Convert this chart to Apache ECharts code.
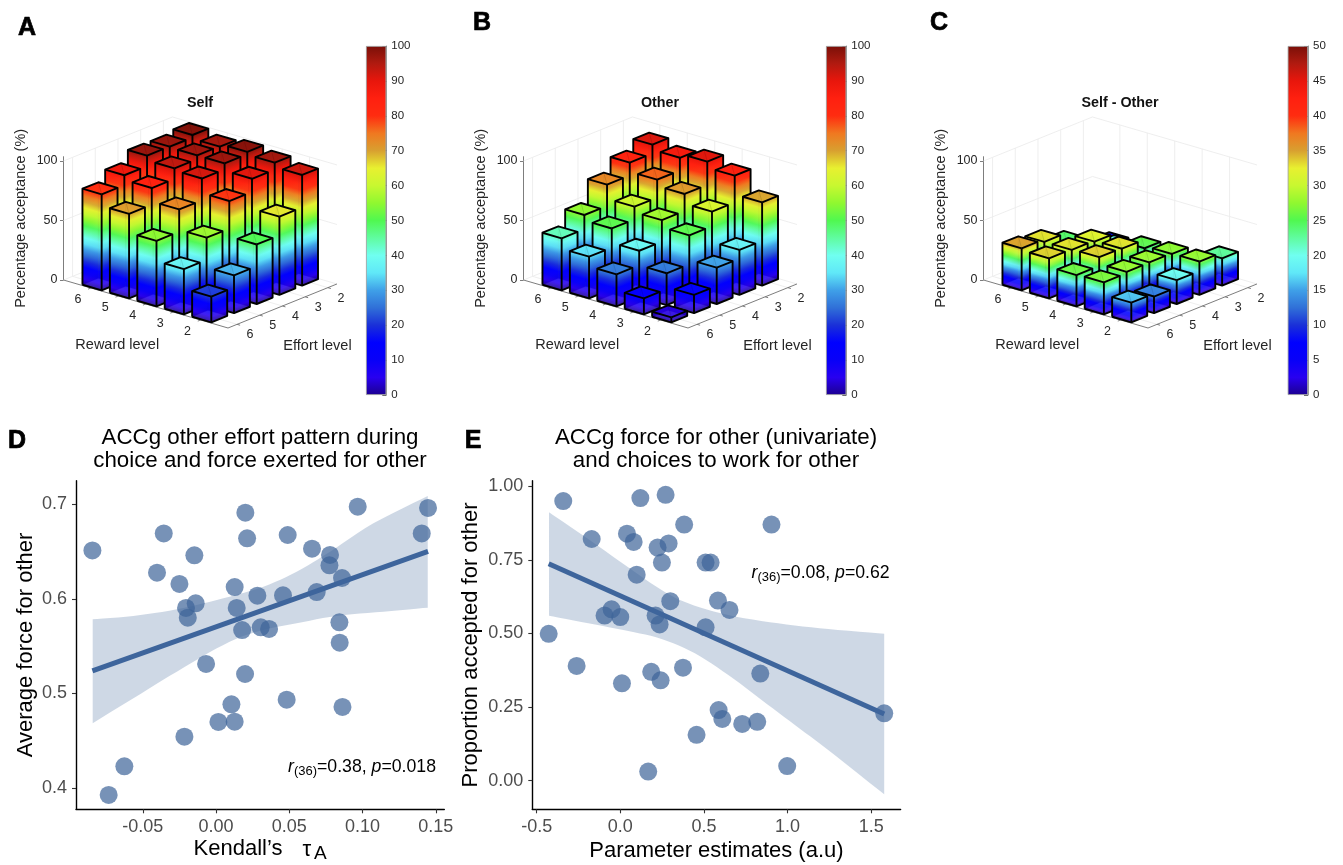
<!DOCTYPE html>
<html>
<head>
<meta charset="utf-8">
<style>html,body{margin:0;padding:0;background:#fff}#chart{width:1343px;height:865px}</style>
<script src="https://cdn.jsdelivr.net/npm/echarts@6/dist/echarts.min.js"></script>
</head>
<body>
<div id="chart"></div>
<script>
// ---------- Data: 3D bars (percentage acceptance), each row is one effort level, reward 2..6 ----------
const rewardLevels = [2, 3, 4, 5, 6];
const effortLevels = [2, 3, 4, 5, 6];
const selfE2 = [93, 96.6, 99, 96.6, 99.7];
const selfE3 = [65.7, 90.8, 97, 97, 97.6];
const selfE4 = [50, 79.8, 92, 93.8, 97.8];
const selfE5 = [31.8, 56.7, 73.7, 85, 89];
const selfE6 = [21.6, 38, 55, 71, 80.7];
const otherE2 = [70, 85.7, 90.8, 87.3, 91.6];
const otherE3 = [37.7, 63.2, 71.3, 76.6, 84.2];
const otherE4 = [30.5, 51, 57, 61.6, 73.4];
const otherE5 = [15.3, 26.8, 39, 51, 55.6];
const otherE6 = [4.2, 13.4, 26.9, 35, 43.7];
const diffE2 = [23, 11, 8, 9, 8];
const diffE3 = [28, 27.6, 25.7, 20, 13.4];
const diffE4 = [20, 28.3, 33, 32.2, 24.4];
const diffE5 = [14, 28, 33.6, 33, 33];
const diffE6 = [16.5, 26.9, 26.3, 33.6, 35.3];
const zTicks = [0, 50, 100];
const barTicksFull = [0, 10, 20, 30, 40, 50, 60, 70, 80, 90, 100];
const barTicksHalf = [0, 5, 10, 15, 20, 25, 30, 35, 40, 45, 50];

// ---------- Data: panel D ----------
const dX = [-.0844,-.0357,-.0403,-.025,-.0148,-.0205,-.0193,-.0139,-.0068,.0127,.0141,.0178,.02,.0212,.0198,.0105,.0127,.0016,-.0216,-.0626,-.0733,.0282,.0305,.0362,.0457,.0489,.0482,.0655,.0687,.0778,.0774,.086,.0842,.0844,.0863,.0967,.1404,.1447];
const dY = [.651,.669,.6275,.6156,.6458,.5903,.58,.5952,.5312,.6124,.5903,.567,.6909,.6638,.5206,.4886,.4703,.47,.4545,.4232,.393,.6033,.5699,.5681,.6036,.6673,.4935,.6529,.6071,.6462,.6353,.6219,.5751,.5537,.4858,.6972,.669,.6958];
const dFitX = [-.0844, .1447];
const dFitY = [.5238, .65];
const dHighX = [-.0842,-.0564,-.0268,.005,.0323,.055,.0778,.1074,.1445];
const dHighY = [.5783,.5819,.5889,.6005,.6128,.6286,.6497,.6796,.7084];
const dLowX = [-.0842,-.0564,-.0268,.005,.0278,.055,.0824,.1142,.1445];
const dLowY = [.4687,.495,.5231,.5513,.5653,.5741,.5819,.5864,.5906];
const dTicksX = [-.05, 0, .05, .1, .15];
const dTicksY = [.4, .5, .6, .7];

// ---------- Data: panel E ----------
const eX = [-.341,.12,.271,.382,.904,-.171,.04,.08,.223,.289,.249,.51,.54,.098,.299,.584,.653,-.052,-.094,0,.211,.235,.51,-.428,-.261,.375,.185,.241,.01,.837,.588,.61,.729,.819,.456,.167,.998,1.578];
const eY = [.95,.96,.971,.87,.87,.821,.839,.811,.792,.806,.741,.741,.741,.7,.61,.612,.58,.582,.561,.556,.561,.531,.521,.499,.39,.384,.37,.341,.331,.364,.24,.21,.193,.2,.156,.031,.05,.229];
const eFitX = [-.428, 1.578];
const eFitY = [.737, .2265];
const eHighX = [-.426,-.211,.028,.247,.406,.646,.944,1.243,1.578];
const eHighY = [.9116,.8288,.7327,.6478,.6026,.5628,.5346,.5153,.4993];
const eLowX = [-.426,-.191,.048,.247,.446,.646,.845,1.044,1.243,1.578];
const eLowY = [.5605,.5346,.5085,.4813,.4327,.359,.2741,.1892,.1043,-.0462];
const eTicksX = [-.5, 0, .5, 1, 1.5];
const eTicksY = [0, .25, .5, .75, 1];

// ---------- Colour map ----------
const cmapStops = [
  [0,'#1c0090'],[.05,'#2800f0'],[.1,'#0800f8'],[.15,'#0000ff'],[.2,'#1a30d8'],[.25,'#3070d8'],
  [.3,'#3fa0e8'],[.35,'#60e8f8'],[.4,'#70fff0'],[.45,'#60fca0'],[.5,'#50f850'],[.55,'#90f830'],
  [.6,'#c8f830'],[.65,'#e8f030'],[.7,'#d8a030'],[.75,'#f07820'],[.8,'#ff2c10'],[.85,'#ff2010'],
  [.9,'#e8160c'],[.95,'#b01a10'],[1,'#7a1008']
];
const gradStops = cmapStops.map(s => ({offset: s[0], color: s[1]}));
function hex(c){return [1,3,5].map(i => parseInt(c.substr(i,2),16));}
function sampleColor(t){
  t = Math.max(0, Math.min(1, t));
  for (let i = 1; i < cmapStops.length; i++) {
    if (t <= cmapStops[i][0]) {
      const a = cmapStops[i-1], b = cmapStops[i], f = (t-a[0])/(b[0]-a[0]);
      const A = hex(a[1]), B = hex(b[1]);
      return 'rgb(' + A.map((v,j) => Math.round(v+(B[j]-v)*f)).join(',') + ')';
    }
  }
  return cmapStops[cmapStops.length-1][1];
}

// ---------- Oblique view of the 3D axes ----------
const rMin = 1, rMax = 7, eMin = 1.6, eMax = 6.4, halfBar = .35;
const viewEx = 22.7, viewEy = -9.17, viewRy = 8;
function project(api, r, e, z){
  const p = api.coord([r, z]);
  return [p[0] + (eMax-e)*viewEx, p[1] + (rMax-r)*viewRy + (eMax-e)*viewEy];
}

const FONT = '"Liberation Sans", Arial, Helvetica, sans-serif';
const GRID_COL = '#ececec', AX3D = '#6e6e6e', TXT3D = '#262626';
function seg(a, b, stroke, w){
  return {type:'line', silent:true, shape:{x1:a[0],y1:a[1],x2:b[0],y2:b[1]}, style:{stroke, lineWidth:w}};
}
function label(text, x, y, size){
  return {type:'text', silent:true, style:{text, x, y, fill:TXT3D, fontSize:size, fontFamily:FONT, textAlign:'center', textVerticalAlign:'middle'}};
}

function renderFrame(params, api){
  const P = (r,e,z) => project(api,r,e,z), ch = [];
  zTicks.filter(z => z > 0).forEach(z => {
    ch.push(seg(P(rMax,eMax,z), P(rMax,eMin,z), GRID_COL, .9));
    ch.push(seg(P(rMax,eMin,z), P(rMin,eMin,z), GRID_COL, .9));
  });
  rewardLevels.forEach(r => {
    ch.push(seg(P(r,eMin,0), P(r,eMin,100), GRID_COL, .9));
    ch.push(seg(P(r,eMin,0), P(r,eMax,0), GRID_COL, .9));
  });
  effortLevels.forEach(e => {
    ch.push(seg(P(rMax,e,0), P(rMax,e,100), GRID_COL, .9));
    ch.push(seg(P(rMax,e,0), P(rMin,e,0), GRID_COL, .9));
  });
  ch.push(seg(P(rMax,eMin,0), P(rMax,eMax,0), GRID_COL, .9));
  ch.push(seg(P(rMax,eMin,0), P(rMin,eMin,0), GRID_COL, .9));
  ch.push(seg(P(rMax,eMax,0), P(rMin,eMax,0), AX3D, .9));
  ch.push(seg(P(rMin,eMax,0), P(rMin,eMin,0), AX3D, .9));
  rewardLevels.forEach(r => {
    const p = P(r,eMax,0);
    ch.push(seg(p, [p[0]-2.8,p[1]+1.1], AX3D, .9));
    ch.push(label(String(r), p[0]-13, p[1]+11.5, 12.5));
  });
  effortLevels.forEach(e => {
    const p = P(rMin,e,0);
    ch.push(seg(p, [p[0]+3,p[1]+.9], AX3D, .9));
    ch.push(label(String(e), p[0]+13, p[1]+10.5, 12.5));
  });
  const a = P(4,eMax,0), b = P(rMin,4,0);
  ch.push(label('Reward level', a[0]-28.5, a[1]+41, 14.5));
  ch.push(label('Effort level', b[0]+35, b[1]+40, 14.5));
  return {type:'group', children:ch};
}

function faceGradient(A, B, H){
  const dx = B[0]-A[0], dy = B[1]-A[1], L = Math.hypot(dx,dy);
  let nx = -dy/L, ny = dx/L;
  if (ny > 0) { nx = -nx; ny = -ny; }
  const lam = H * (-ny);
  return new echarts.graphic.LinearGradient(A[0], A[1], A[0]+nx*lam, A[1]+ny*lam, gradStops, true);
}
function makeBarRenderer(colorMax){
  return function(params, api){
    const r = api.value(0), e = api.value(1), z = api.value(2);
    const P = (a,b,c) => project(api,a,b,c);
    const r0=r-halfBar, r1=r+halfBar, e0=e-halfBar, e1=e+halfBar;
    const H = api.coord([r,0])[1] - api.coord([r,colorMax])[1];
    const fb=P(r0,e1,0), lb=P(r1,e1,0), rb=P(r0,e0,0), bb=P(r1,e0,0);
    const ft=P(r0,e1,z), lt=P(r1,e1,z), rt=P(r0,e0,z), bt=P(r1,e0,z);
    const poly = (pts, fill, op) => ({type:'polygon', silent:true, shape:{points:pts}, style:{fill, opacity:op}});
    const ch = [
      poly([lb,bb,bt,lt], faceGradient(lb,bb,H), 1),
      poly([rb,bb,bt,rt], faceGradient(rb,bb,H), 1),
      seg(bb,bt,'rgba(0,0,0,.35)',1),
      seg(lb,bb,'rgba(0,0,0,.3)',.8),
      seg(rb,bb,'rgba(0,0,0,.3)',.8),
      poly([fb,lb,lt,ft], faceGradient(fb,lb,H), .88),
      poly([fb,rb,rt,ft], faceGradient(fb,rb,H), .88),
      poly([ft,lt,bt,rt], sampleColor(z/colorMax), .9),
      seg(ft,bt,'rgba(0,0,0,.12)',1)
    ];
    const edge = {type:'polyline', silent:true, shape:{points:[lb,fb,rb,rt,bt,lt,lb]}, style:{stroke:'#000',lineWidth:1.9,fill:null,lineJoin:'round'}};
    ch.push(edge);
    ch.push(seg(fb,ft,'#000',1.9), seg(ft,lt,'#000',1.9), seg(ft,rt,'#000',1.9));
    return {type:'group', children:ch};
  };
}
function barTable(rows){
  const out = [];
  effortLevels.forEach((e,i) => {
    for (let k = rewardLevels.length-1; k >= 0; k--) out.push([rewardLevels[k], e, rows[i][k]]);
  });
  return out;
}
// Rounds the outline of a polyline for drawing only (the read points stay on the curve).
function roundedOutline(pts){
  const out = [];
  for (let i = 0; i < pts.length-1; i++) {
    const p0 = pts[Math.max(i-1,0)], p1 = pts[i], p2 = pts[i+1], p3 = pts[Math.min(i+2,pts.length-1)];
    for (let k = 0; k < 6; k++) {
      const t = k/6, t2 = t*t, t3 = t2*t;
      out.push([0,1].map(d => .5*(2*p1[d] + (p2[d]-p0[d])*t + (2*p0[d]-5*p1[d]+4*p2[d]-p3[d])*t2 + (3*p1[d]-p0[d]-3*p2[d]+p3[d])*t3)));
    }
  }
  out.push(pts[pts.length-1]);
  return out;
}
function renderBand(hx, hy, lx, ly, color){
  return function(params, api){
    const top = roundedOutline(hx.map((x,i) => api.coord([x,hy[i]])));
    const bot = roundedOutline(lx.map((x,i) => api.coord([x,ly[i]]))).reverse();
    return {type:'polygon', silent:true, shape:{points:top.concat(bot)}, style:{fill:color, opacity:.25}};
  };
}

// ---------- Layout ----------
const grid = [], xAxis = [], yAxis = [], series = [], title = [];
function addScene(left, rows, colorMax, barLeft, ticks, name){
  const gi = grid.length;
  grid.push({left:left+63.5, width:164.5, top:156.7, height:123.3, outerBoundsMode:'none', containLabel:false});
  xAxis.push({gridIndex:gi, type:'value', min:rMin, max:rMax, inverse:true, show:false});
  yAxis.push({gridIndex:gi, type:'value', min:0, max:103.6, position:'left', splitLine:{show:false},
    axisLine:{show:true, lineStyle:{color:AX3D, width:.9}},
    axisTick:{show:true, length:3.5, lineStyle:{color:AX3D, width:.9}, customValues:zTicks},
    axisLabel:{color:TXT3D, fontSize:12.5, fontFamily:FONT, margin:6, customValues:zTicks},
    name:'Percentage acceptance (%)', nameLocation:'middle', nameRotate:90, nameGap:35,
    nameTextStyle:{color:TXT3D, fontSize:14.5, fontFamily:FONT}});
  series.push({type:'custom', xAxisIndex:gi, yAxisIndex:gi, coordinateSystem:'cartesian2d', clip:false, silent:true, z:1,
    renderItem:renderFrame, data:[[rMin,0]], encode:{x:0,y:1}});
  series.push({type:'custom', name, xAxisIndex:gi, yAxisIndex:gi, coordinateSystem:'cartesian2d', clip:false, silent:true, z:2,
    renderItem:makeBarRenderer(colorMax), data:barTable(rows), encode:{x:0,y:2}});
  // colour bar
  const ci = grid.length;
  grid.push({left:barLeft, width:20.3, top:46, height:349, outerBoundsMode:'none', containLabel:false});
  xAxis.push({gridIndex:ci, type:'category', data:['range'], show:false});
  yAxis.push({gridIndex:ci, type:'value', min:0, max:colorMax, position:'right', splitLine:{show:false},
    axisLine:{show:true, lineStyle:{color:'#9a9a9a', width:1}},
    axisTick:{show:true, inside:true, length:4, lineStyle:{color:'#444', width:.8}, customValues:ticks},
    axisLabel:{color:TXT3D, fontSize:11.5, fontFamily:FONT, margin:5, customValues:ticks}});
  series.push({type:'bar', xAxisIndex:ci, yAxisIndex:ci, barWidth:'100%', silent:true, data:[colorMax],
    itemStyle:{color:new echarts.graphic.LinearGradient(0,1,0,0,gradStops), borderColor:'#9a9a9a', borderWidth:.8}});
  title.push({text:name, left:left+200, top:103, padding:0, textAlign:'center', textVerticalAlign:'middle',
    textStyle:{fontSize:14.3, fontWeight:'bold', color:'#111', fontFamily:FONT}});
}
addScene(0,   [selfE2,selfE3,selfE4,selfE5,selfE6], 100, 366, barTicksFull, 'Self');
addScene(460, [otherE2,otherE3,otherE4,otherE5,otherE6], 100, 826, barTicksFull, 'Other');
addScene(920, [diffE2,diffE3,diffE4,diffE5,diffE6], 50, 1287.7, barTicksHalf, 'Self - Other');

const BLUE = '#3d6499';
function addScatter(cfg){
  const gi = grid.length;
  grid.push({left:cfg.left, width:368.3, top:480.7, height:328.6, outerBoundsMode:'none', containLabel:false});
  const axisBase = {splitLine:{show:false},
    axisLine:{show:true, onZero:false, lineStyle:{color:'#000', width:1.4}},
    axisTick:{show:true, length:4, lineStyle:{color:'#333', width:1.1}},
    axisLabel:{color:'#4d4d4d', fontSize:18, fontFamily:FONT}};
  xAxis.push(Object.assign({}, axisBase, {gridIndex:gi, type:'value', min:cfg.xr[0], max:cfg.xr[1],
    axisTick:Object.assign({}, axisBase.axisTick, {customValues:cfg.tx}),
    axisLabel:Object.assign({}, axisBase.axisLabel, {margin:8.5, customValues:cfg.tx, formatter:v => v.toFixed(cfg.dx)}),
    name:cfg.xName, nameLocation:'middle', nameGap:cfg.xGap,
    nameTextStyle:{color:'#000', fontSize:22, fontFamily:FONT, rich:cfg.xRich}}));
  yAxis.push(Object.assign({}, axisBase, {gridIndex:gi, type:'value', min:cfg.yr[0], max:cfg.yr[1],
    axisTick:Object.assign({}, axisBase.axisTick, {customValues:cfg.ty}),
    axisLabel:Object.assign({}, axisBase.axisLabel, {margin:9, customValues:cfg.ty, formatter:v => v.toFixed(cfg.dy)}),
    name:cfg.yName, nameLocation:'middle', nameRotate:90, nameGap:cfg.yGap,
    nameTextStyle:{color:'#000', fontSize:22, fontFamily:FONT}}));
  series.push({type:'custom', xAxisIndex:gi, yAxisIndex:gi, coordinateSystem:'cartesian2d', clip:false, silent:true, z:1,
    renderItem:renderBand(cfg.hx,cfg.hy,cfg.lx,cfg.ly,BLUE), data:[[cfg.hx[0],cfg.hy[0]]], encode:{x:0,y:1}});
  series.push({type:'scatter', xAxisIndex:gi, yAxisIndex:gi, symbolSize:18, silent:true, z:2, clip:false,
    itemStyle:{color:BLUE, opacity:.7}, data:cfg.px.map((x,i) => [x,cfg.py[i]])});
  series.push({type:'line', xAxisIndex:gi, yAxisIndex:gi, showSymbol:false, silent:true, z:3, clip:false,
    lineStyle:{color:'#3e659c', width:5}, data:cfg.fx.map((x,i) => [x,cfg.fy[i]])});
}
addScatter({left:76, xr:[-.0956,.1558], yr:[.3778,.7246], tx:dTicksX, ty:dTicksY, dx:2, dy:1,
  px:dX, py:dY, fx:dFitX, fy:dFitY, hx:dHighX, hy:dHighY, lx:dLowX, ly:dLowY,
  xName:'{k|Kendall’s}{g|}{t|τ}{a|A}', xGap:25,
  xRich:{k:{fontSize:22,fontFamily:FONT,color:'#000'}, g:{width:20}, t:{fontSize:22,fontFamily:FONT,color:'#000',padding:[2,0,0,0]},
    a:{fontSize:19,fontFamily:FONT,color:'#000',padding:[10,0,0,3]}},
  yName:'Average force for other', yGap:39});
addScatter({left:532.3, xr:[-.526,1.676], yr:[-.097,1.019], tx:eTicksX, ty:eTicksY, dx:1, dy:2,
  px:eX, py:eY, fx:eFitX, fy:eFitY, hx:eHighX, hy:eHighY, lx:eLowX, ly:eLowY,
  xName:'Parameter estimates (a.u)', xGap:31,
  yName:'Proportion accepted for other', yGap:50});

const annRich = {
  i:{fontStyle:'italic', fontWeight:'normal', fontSize:17.7, fontFamily:FONT, color:'#000'},
  s:{fontWeight:'normal', fontSize:13, fontFamily:FONT, color:'#000', padding:[8,0,0,0]},
  n:{fontWeight:'normal', fontSize:17.7, fontFamily:FONT, color:'#000'}
};
title.push({text:'{i|r}{s|(36)}{n|=0.38, }{i|p}{n|=0.018}', left:288, top:767, padding:0, textVerticalAlign:'middle', textStyle:{fontWeight:'normal', rich:annRich}});
title.push({text:'{i|r}{s|(36)}{n|=0.08, }{i|p}{n|=0.62}', left:751.5, top:573, padding:0, textVerticalAlign:'middle', textStyle:{fontWeight:'normal', rich:annRich}});

function panelTitle(text, x, y1){
  title.push({text, left:x, top:y1, padding:0, textAlign:'center', textVerticalAlign:'top',
    textStyle:{fontSize:22.3, fontWeight:'normal', color:'#000', fontFamily:FONT, lineHeight:23.5}});
}
panelTitle('ACCg other effort pattern during\nchoice and force exerted for other', 260, 426);
panelTitle('ACCg force for other (univariate)\nand choices to work for other', 716, 426);

function letter(text, x, y){
  title.push({text, left:x, top:y, padding:0, textAlign:'center', textVerticalAlign:'middle',
    textStyle:{fontSize:25, fontWeight:'bold', color:'#000', fontFamily:FONT, textBorderColor:'#000', textBorderWidth:.7}});
}
letter('A', 27, 28); letter('B', 482, 23); letter('C', 939, 23); letter('D', 17, 441); letter('E', 473, 441);

const chart = echarts.init(document.getElementById('chart'), null, {renderer:'canvas'});
chart.setOption({animation:false, backgroundColor:'#fff', grid, xAxis, yAxis, series, title});
</script>
</body>
</html>
